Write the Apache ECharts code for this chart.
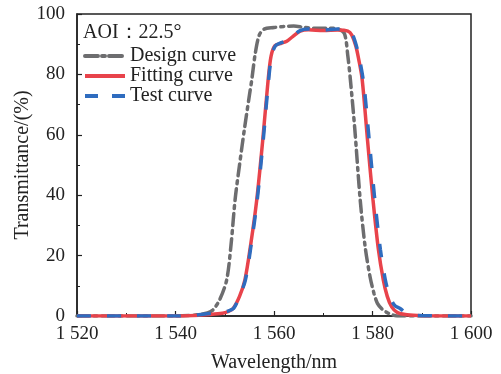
<!DOCTYPE html>
<html>
<head>
<meta charset="utf-8">
<script src="https://cdn.jsdelivr.net/npm/echarts@6/dist/echarts.min.js"></script>
<style>html,body{margin:0;padding:0;background:#fff}#c{width:501px;height:374px}</style>
</head>
<body>
<div id="c"></div>
<script>
// X tick labels (nm)
const xTicks = [1520, 1540, 1560, 1580, 1600];
const yTicks = [0, 20, 40, 60, 80, 100];

// Design curve
const designX = [1520, 1530, 1540, 1543, 1545, 1546.5, 1547.6, 1549, 1550.4, 1551.3, 1552.1, 1553, 1554, 1555, 1555.5, 1556.2, 1557, 1558, 1560, 1562, 1564, 1566, 1568, 1571, 1573, 1574.3, 1575, 1575.5, 1576.4, 1577.5, 1578.5, 1579.5, 1580.3, 1581, 1582, 1583, 1584, 1585, 1590, 1600];
const designY = [0, 0, 0, 0.2, 0.5, 1, 2, 5.5, 12, 24, 38.5, 50, 62, 73, 78.4, 87, 93, 95, 95.5, 95.9, 96, 95.6, 95.3, 95.3, 95, 93.5, 86, 78.4, 62, 38.5, 23, 13, 7.5, 4.2, 2.2, 1.1, 0.4, 0, 0, 0];

// Fitting curve
const fitX = [1520, 1530, 1540, 1544, 1547, 1549.5, 1550.6, 1551.7, 1553, 1554.1, 1555.3, 1556.5, 1557.7, 1558.8, 1559.4, 1560.2, 1561.5, 1562.6, 1563.8, 1565.3, 1567, 1570, 1573, 1575, 1575.8, 1576.6, 1577.2, 1577.9, 1579, 1580.1, 1581.2, 1582.2, 1583, 1583.9, 1585, 1587, 1590, 1600];
const fitY = [0, 0, 0, 0.2, 0.5, 0.9, 1.4, 2.5, 6.5, 12, 24, 38.5, 58, 78, 86, 89.5, 90.3, 91, 92.5, 94.3, 94.8, 94.5, 94.7, 94.3, 93, 89.5, 85, 78.4, 58, 38.5, 22, 11.9, 6.5, 3, 1.2, 0.4, 0.1, 0];

// Test curve
const testX = [1520, 1530, 1540, 1544, 1546, 1548, 1549.5, 1550.6, 1551.8, 1553, 1554.2, 1555.4, 1556.6, 1557.8, 1558.9, 1559.5, 1560.3, 1561.5, 1562.6, 1563.8, 1565.3, 1567, 1570, 1573, 1575.2, 1576, 1576.8, 1577.5, 1578.3, 1579.4, 1580.5, 1581.6, 1582.6, 1583.5, 1584.5, 1585.6, 1587, 1589, 1600];
const testY = [0, 0, 0, 0.3, 0.7, 1, 1.3, 1.6, 2.5, 6.5, 12, 24, 38.5, 58, 78, 86, 89.5, 90.5, 91.3, 92.7, 94.5, 95, 94.7, 95, 94.5, 93, 89, 84, 76, 57, 38, 22, 12, 6.5, 3.5, 2.5, 0.8, 0.2, 0];

const zip = (xs, ys) => xs.map((x, i) => [x, ys[i]]);
const serif = '"Liberation Serif", "Times New Roman", serif';
const gray = '#6d6d6f', red = '#e8434b', blue = '#2f6cbf';

const chart = echarts.init(document.getElementById('c'), null, {renderer: 'canvas'});
chart.setOption({
  animation: false,
  backgroundColor: '#fff',
  grid: {left: 77, right: 30, top: 14, bottom: 58, show: true, borderColor: '#222', borderWidth: 1.5,
         containLabel: false, outerBoundsMode: 'none'},
  legend: {
    orient: 'vertical', left: 83, top: 46, padding: 0, itemWidth: 40, itemHeight: 10, itemGap: 0,
    itemStyle: {opacity: 0},
    textStyle: {fontFamily: serif, fontSize: 20, color: '#222', lineHeight: 20},
    data: [
      {name: 'Design curve', lineStyle: {width: 4, color: gray, type: [13, 4, 3, 4]}},
      {name: 'Fitting curve', lineStyle: {width: 4, color: red, type: 'solid'}},
      {name: 'Test curve', lineStyle: {width: 4, color: blue, type: [13, 14]}}
    ]
  },
  graphic: [{type: 'text', left: 83, top: 23, style: {text: 'AOI：22.5°', font: '20px ' + serif, fill: '#222'}}],
  xAxis: {
    type: 'value', min: 1520, max: 1600, interval: 20,
    name: 'Wavelength/nm', nameLocation: 'middle', nameGap: 37, nameMoveOverlap: false,
    nameTextStyle: {fontFamily: serif, fontSize: 20, color: '#222'},
    axisLine: {lineStyle: {color: '#222', width: 1.5}},
    axisTick: {inside: true, length: 5, lineStyle: {color: '#222', width: 1.2}},
    minorTick: {show: true, splitNumber: 2, length: 3, lineStyle: {color: '#222', width: 1}},
    splitLine: {show: false},
    axisLabel: {fontFamily: serif, fontSize: 19, color: '#222', margin: 9,
      formatter: v => { const s = String(v); return s.slice(0, 1) + ' ' + s.slice(1); }}
  },
  yAxis: {
    type: 'value', min: 0, max: 100, interval: 20,
    name: 'Transmittance/(%)', nameLocation: 'middle', nameGap: 44, nameMoveOverlap: false,
    nameTextStyle: {fontFamily: serif, fontSize: 20, color: '#222'},
    axisLine: {show: true, lineStyle: {color: '#222', width: 1.5}},
    axisTick: {show: true, inside: true, length: 5, lineStyle: {color: '#222', width: 1.2}},
    minorTick: {show: true, splitNumber: 2, length: 3, lineStyle: {color: '#222', width: 1}},
    splitLine: {show: false},
    axisLabel: {fontFamily: serif, fontSize: 19, color: '#222', margin: 12}
  },
  series: [
    {name: 'Design curve', type: 'line', smooth: 0.3, showSymbol: false, symbol: 'none', z: 2,
     data: zip(designX, designY),
     lineStyle: {color: gray, width: 3.5, type: [12, 5, 3, 5], cap: 'round'},
     itemStyle: {color: gray}},
    {name: 'Fitting curve', type: 'line', smooth: 0.3, showSymbol: false, symbol: 'none', z: 3,
     data: zip(fitX, fitY),
     lineStyle: {color: red, width: 3.5},
     itemStyle: {color: red}},
    {name: 'Test curve', type: 'line', smooth: 0.3, showSymbol: false, symbol: 'none', z: 4,
     data: zip(testX, testY),
     lineStyle: {color: blue, width: 3.5, type: [14, 16]},
     itemStyle: {color: blue}}
  ]
});
</script>
</body>
</html>
